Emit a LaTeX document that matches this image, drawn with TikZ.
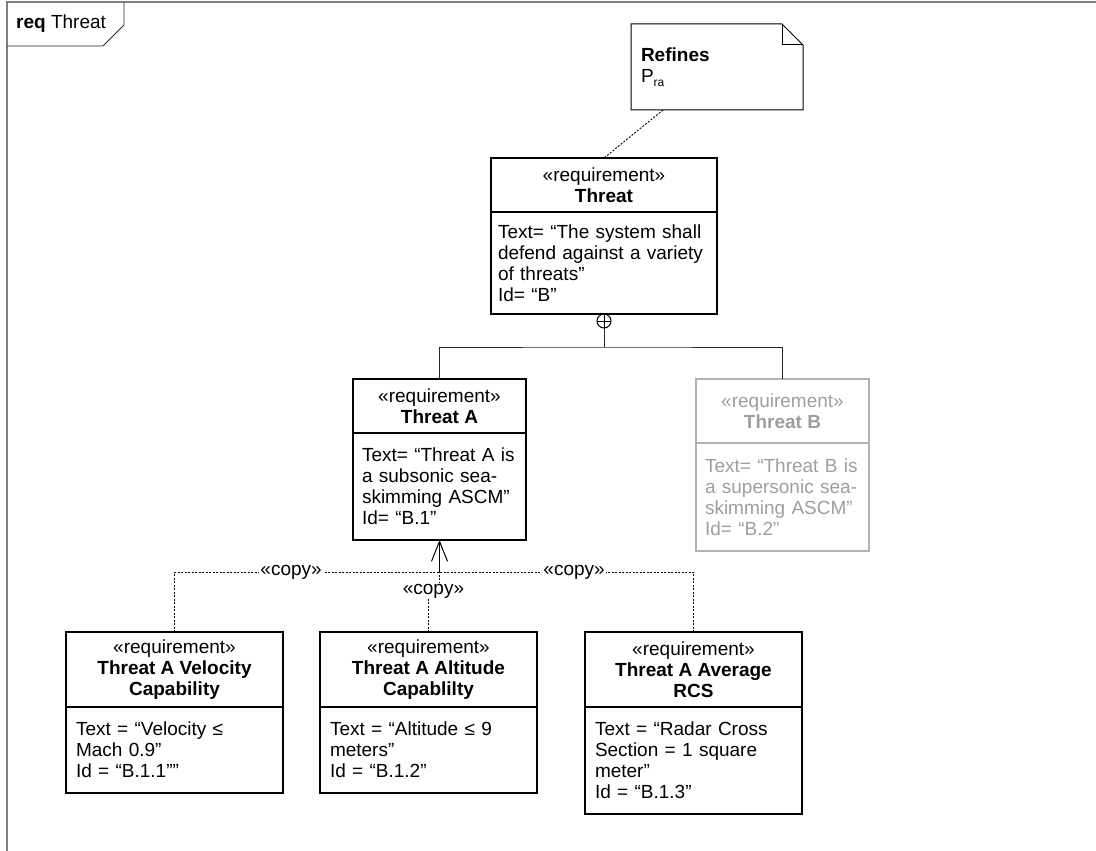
\documentclass[tikz,border=0pt]{standalone}
\usepackage{fontspec}
\setmainfont{Liberation Sans}
\usetikzlibrary{arrows.meta,calc}
\definecolor{framegray}{RGB}{128,128,128}
\definecolor{ghosttext}{RGB}{158,158,158}
\definecolor{ghostline}{RGB}{178,178,178}
\begin{document}
\begin{tikzpicture}[x=1pt,y=-1pt,
  every node/.style={font=\fontsize{19pt}{21pt}\selectfont},
  reqhead/.style={draw, line width=1.1pt, align=center, inner sep=0pt, outer sep=0pt, anchor=north west},
  reqbody/.style={draw, line width=1.1pt, align=left, inner ysep=0pt, inner xsep=#1, outer sep=0pt, anchor=north west},
  notebox/.style={align=left, inner xsep=10pt, inner ysep=0pt, outer sep=0pt, anchor=north west},
  copyline/.style={line width=0.9pt, dash pattern=on 2pt off 1.5pt},
  copylbl/.style={fill=white, inner sep=1pt},
  deparrow/.style={line width=1pt, -{Straight Barb[length=20pt,width=16pt]}},
  ownline/.style={line width=1pt, black!85},
  ghost/.style={draw=ghostline, text=ghosttext}]
\useasboundingbox (0,0) rectangle (1096,851);

% diagram frame and its name tab
\draw[framegray, line width=1.6pt] (7,870) -- (7,2) -- (1110,2);
\draw[line width=0.8pt, black!85] (7,46) -- (103,46) -- (124,25) -- (124,2);
\node[anchor=base west, inner sep=0pt] (ftitle) at (16,29) {\textbf{req} Threat};

% comment note
\node[notebox, minimum width=172pt, minimum height=86pt, text width=152pt] (note) at (631,24)
  {\textbf{Refines}\\P\raisebox{-4pt}{\fontsize{12pt}{12pt}\selectfont ra}};
\draw[line width=1pt] (note.south west) -- (note.north west) -- ($(note.north east)+(-21,0)$)
  -- ($(note.north east)+(0,21)$) -- (note.south east) -- cycle;
\draw[line width=1pt] ($(note.north east)+(-21,0)$) |- ($(note.north east)+(0,21)$);

% top requirement
\node[reqhead, minimum width=226pt, minimum height=54pt] (thr) at (491,158)
  {«requirement»\\\textbf{Threat}};
\node[reqbody=7pt, minimum width=226pt, text width=212pt, minimum height=102pt] (thrb) at (thr.south west)
  {Text= “The system shall\\defend against a variety\\of threats”\\Id= “B”};

% sub-requirements
\node[reqhead, minimum width=173pt, minimum height=54pt] (tA) at (353,379)
  {«requirement»\\\textbf{Threat A}};
\node[reqbody=9pt, minimum width=173pt, text width=155pt, minimum height=107pt] (tAb) at (tA.south west)
  {Text= “Threat A is\\a subsonic sea-\\skimming ASCM”\\Id= “B.1”};

\node[reqhead, ghost, minimum width=173pt, minimum height=64pt] (tB) at (696,379)
  {«requirement»\\\textbf{Threat B}};
\node[reqbody=9pt, ghost, minimum width=173pt, text width=155pt, minimum height=108pt] (tBb) at (tB.south west)
  {Text= “Threat B is\\a supersonic sea-\\skimming ASCM”\\Id= “B.2”};

% derived requirements
\node[reqhead, minimum width=217pt, minimum height=75pt] (vel) at (66,632)
  {«requirement»\\\textbf{Threat A Velocity}\\\textbf{Capability}};
\node[reqbody=10pt, minimum width=217pt, text width=197pt, minimum height=86pt] (velb) at (vel.south west)
  {Text = “Velocity ≤\\Mach 0.9”\\Id = “B.1.1””};

\node[reqhead, minimum width=217pt, minimum height=75pt] (alt) at (320,632)
  {«requirement»\\\textbf{Threat A Altitude}\\\textbf{Capablilty}};
\node[reqbody=10pt, minimum width=217pt, text width=197pt, minimum height=86pt] (altb) at (alt.south west)
  {Text = “Altitude ≤ 9\\meters”\\Id = “B.1.2”};

\node[reqhead, minimum width=217pt, minimum height=75pt] (rcs) at (585,632)
  {«requirement»\\\textbf{Threat A Average}\\\textbf{RCS}};
\node[reqbody=10pt, minimum width=217pt, text width=197pt, minimum height=107pt] (rcsb) at (rcs.south west)
  {Text = “Radar Cross\\Section = 1 square\\meter”\\Id = “B.1.3”};

% refine link
\draw[copyline] ($(note.south west)+(32,0)$) -- (thr.north);

% containment
\node[draw, circle, line width=1pt, minimum size=14pt, inner sep=0pt, outer sep=0pt, anchor=north] (own) at (thrb.south) {};
\draw[line width=1pt] (own.north) -- (own.south) (own.west) -- (own.east);
\coordinate (bus) at ($(own.south)+(0,19)$);
\draw[ownline] (own.south) -- (bus);
\draw[ownline] (tA.north) |- (bus) -| (tB.north);

% copy dependencies
\coordinate (cj) at ($(tAb.south)+(0,32)$);
\draw[deparrow] (cj) -- (tAb.south);
\draw[copyline] (vel.north) |- node[copylbl, pos=0.72] {«copy»} (cj);
\draw[copyline] (rcs.north) |- node[copylbl, pos=0.735] {«copy»} (cj);
\draw[copyline] (alt.north) |- node[copylbl, xshift=5pt] {«copy»} ($(cj)+(0,19)$) -- (cj);
\end{tikzpicture}
\end{document}
